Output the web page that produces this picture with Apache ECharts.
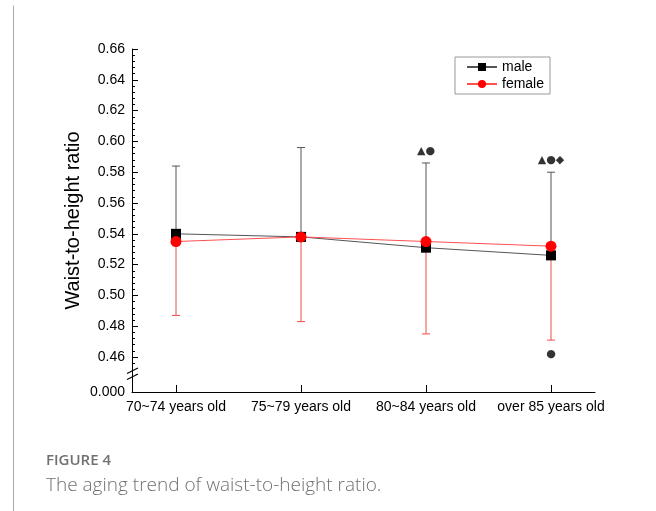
<!DOCTYPE html>
<html>
<head>
<meta charset="utf-8">
<script src="https://cdn.jsdelivr.net/npm/echarts@6/dist/echarts.min.js"></script>
<style>
  html, body { margin: 0; padding: 0; background: #fff; }
  #chart { width: 656px; height: 511px; }
</style>
</head>
<body>
<div id="chart"></div>
<script>
// Age groups on the x axis
const categories = ['70~74 years old', '75~79 years old', '80~84 years old', 'over 85 years old'];

// Waist-to-height ratio: mean and one-sided error bars
const maleMean    = [0.540, 0.538, 0.531, 0.526];
const maleUpper   = [0.584, 0.596, 0.586, 0.580];
const femaleMean  = [0.535, 0.538, 0.535, 0.532];
const femaleLower = [0.487, 0.483, 0.475, 0.471];

// Significance markers: age-group index, height, symbols
const sigCats   = [2, 3, 3];
const sigValues = [0.594, 0.588, 0.462];
const sigTexts  = ['▲●', '▲●◆', '●'];

// Y axis: labelled major ticks above the break, plus the bottom value
const yMajorTicks = [0.46, 0.48, 0.50, 0.52, 0.54, 0.56, 0.58, 0.60, 0.62, 0.64, 0.66];
const yBottom = 0.4373;       // axis floor below the break
const yBottomLabel = '0.000';
const yMinorStep = 0.004;

const xMin = -0.352, xMax = 3.352;

const minorTicks = [];
for (let v = yMajorTicks[0] - yMinorStep; v < yMajorTicks[yMajorTicks.length - 1]; v += yMinorStep) {
  const r = Math.round(v * 1000) / 1000;
  if (!yMajorTicks.some(t => Math.abs(t - r) < 1e-6) && r > 0.452) minorTicks.push(r);
}

const chart = echarts.init(document.getElementById('chart'), null, { renderer: 'canvas' });

function errorBar(color) {
  return function (params, api) {
    const x = api.value(0), m = api.value(1), e = api.value(2);
    const p0 = api.coord([x, m]);
    const p1 = api.coord([x, e]);
    const cap = 4;
    return {
      type: 'group',
      children: [
        { type: 'line', shape: { x1: p0[0], y1: p0[1], x2: p1[0], y2: p1[1] }, style: { stroke: color, lineWidth: 1 } },
        { type: 'line', shape: { x1: p1[0] - cap, y1: p1[1], x2: p1[0] + cap, y2: p1[1] }, style: { stroke: color, lineWidth: 1 } }
      ]
    };
  };
}

const axisFont = { fontFamily: "'Liberation Sans', Arial, sans-serif", fontSize: 14, color: '#000' };

chart.setOption({
  animation: false,
  backgroundColor: '#fff',
  grid: { left: 132, right: 61, top: 49, bottom: 119, containLabel: false },
  legend: {
    data: ['male', 'female'],
    orient: 'vertical',
    left: 455,
    top: 57,
    itemWidth: 30,
    itemHeight: 10,
    itemGap: 3,
    padding: [3, 6, 3, 11],
    borderColor: '#999',
    borderWidth: 1,
    textStyle: { fontFamily: "'Liberation Sans', Arial, sans-serif", fontSize: 14, color: '#000' }
  },
  xAxis: {
    type: 'value',
    min: xMin,
    max: xMax,
    splitLine: { show: false },
    axisLine: { show: true, onZero: false, lineStyle: { color: '#000', width: 1 } },
    axisTick: { show: true, inside: true, length: 7, customValues: [0, 1, 2, 3], lineStyle: { color: '#000' } },
    axisLabel: {
      customValues: [0, 1, 2, 3],
      formatter: v => categories[Math.round(v)],
      margin: 8,
      ...axisFont
    }
  },
  yAxis: [
    {
      type: 'value',
      min: yBottom,
      max: 0.66,
      name: 'Waist-to-height ratio',
      nameLocation: 'middle',
      nameRotate: 90,
      nameGap: 49,
      nameMoveOverlap: false,
      nameTextStyle: { fontFamily: "'Liberation Sans', Arial, sans-serif", fontSize: 20, color: '#000' },
      splitLine: { show: false },
      axisLine: { show: true, onZero: false, lineStyle: { color: '#000', width: 1 } },
      axisTick: { show: true, inside: true, length: 6, customValues: yMajorTicks, lineStyle: { color: '#000' } },
      axisLabel: {
        customValues: [yBottom].concat(yMajorTicks),
        formatter: v => (Math.abs(v - yBottom) < 1e-6 ? yBottomLabel : v.toFixed(2)),
        margin: 7,
        ...axisFont
      }
    },
    {
      type: 'value',
      min: yBottom,
      max: 0.66,
      position: 'left',
      offset: 0,
      splitLine: { show: false },
      axisLine: { show: false, onZero: false },
      axisTick: { show: true, inside: true, length: 3, customValues: minorTicks, lineStyle: { color: '#000' } },
      axisLabel: { show: false, customValues: minorTicks }
    }
  ],
  series: [
    {
      name: 'male-err',
      type: 'custom',
      renderItem: errorBar('#555'),
      data: maleMean.map((m, i) => [i, m, maleUpper[i]]),
      z: 1
    },
    {
      name: 'female-err',
      type: 'custom',
      renderItem: errorBar('#f04a4a'),
      data: femaleMean.map((m, i) => [i, m, femaleLower[i]]),
      z: 1
    },
    {
      name: 'male',
      type: 'line',
      data: maleMean.map((m, i) => [i, m]),
      symbol: 'rect',
      symbolSize: 10,
      itemStyle: { color: '#000' },
      lineStyle: { color: '#555', width: 1 },
      z: 3
    },
    {
      name: 'female',
      type: 'line',
      data: femaleMean.map((m, i) => [i, m]),
      symbol: 'circle',
      symbolSize: 11,
      itemStyle: { color: '#ff0000' },
      lineStyle: { color: '#ff5050', width: 1 },
      z: 4
    },
    {
      name: 'significance',
      type: 'scatter',
      data: sigCats.map((c, i) => ({ value: [c, sigValues[i]], name: sigTexts[i] })),
      symbolSize: 1,
      itemStyle: { color: 'rgba(0,0,0,0)' },
      label: {
        show: true,
        position: 'inside',
        formatter: p => p.name,
        fontFamily: 'DejaVu Sans, sans-serif',
        fontSize: 11,
        color: '#000'
      },
      z: 5
    }
  ],
  graphic: [
    // page frame
    { type: 'line', shape: { x1: 13.5, y1: 5.5, x2: 13.5, y2: 511 }, style: { stroke: '#aaa', lineWidth: 1 } },
    { type: 'line', shape: { x1: 13.5, y1: 5.5, x2: 655.5, y2: 5.5 }, style: { stroke: '#aaa', lineWidth: 1 } },
    { type: 'line', shape: { x1: 655, y1: 5.5, x2: 655, y2: 511 }, style: { stroke: '#aaa', lineWidth: 1 } },
    // caption
    { type: 'text', left: 46, top: 453, style: { text: 'FIGURE 4', fontFamily: "'Open Sans', sans-serif", fontSize: 15, fontWeight: 600, fill: '#707070' } },
    { type: 'text', left: 46, top: 476, style: { text: 'The aging trend of waist-to-height ratio.', fontFamily: "'Open Sans', sans-serif", fontSize: 19, fontWeight: 300, fill: '#707070' } }
  ]
});

// Axis break marker between the floor value and the first labelled tick
(function drawBreak() {
  const ax = chart.convertToPixel({ xAxisIndex: 0 }, xMin);
  const cy = chart.convertToPixel({ yAxisIndex: 0 }, 0.449);
  chart.setOption({
    graphic: [
      { type: 'rect', shape: { x: ax - 2, y: cy - 2.5, width: 4, height: 5 }, style: { fill: '#fff' }, z: 100 },
      { type: 'line', shape: { x1: ax - 5, y1: cy - 0.5, x2: ax + 6, y2: cy - 6 }, style: { stroke: '#000', lineWidth: 1.2 }, z: 101 },
      { type: 'line', shape: { x1: ax - 5, y1: cy + 5.5, x2: ax + 6, y2: cy }, style: { stroke: '#000', lineWidth: 1.2 }, z: 101 }
    ]
  });
})();
</script>
</body>
</html>
